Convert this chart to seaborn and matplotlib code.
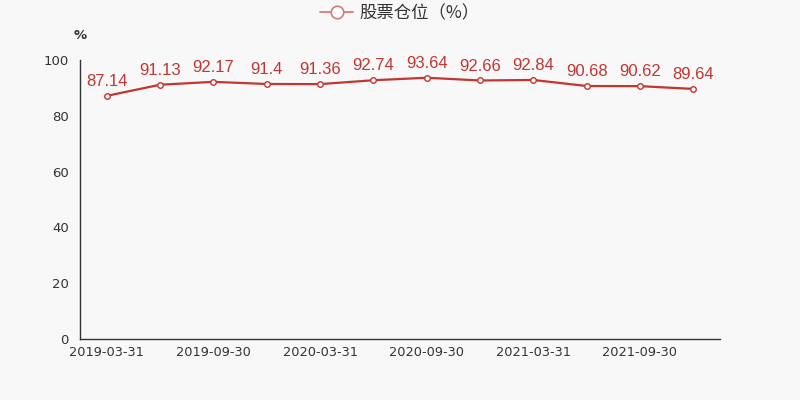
import matplotlib
matplotlib.use("Agg")
import matplotlib.pyplot as plt
from matplotlib.lines import Line2D
import numpy as np
import pandas as pd
import seaborn as sns

dates = ["2019-03-31", "2019-06-30", "2019-09-30", "2019-12-31",
         "2020-03-31", "2020-06-30", "2020-09-30", "2020-12-31",
         "2021-03-31", "2021-06-30", "2021-09-30", "2021-12-31"]
stock_pos = [87.14, 91.13, 92.17, 91.4, 91.36, 92.74, 93.64, 92.66, 92.84, 90.68, 90.62, 89.64]
series_name = "股票仓位（%）"

RED = "#c23531"
BG = "#f8f8f8"
AXIS = "#333333"

sns.set_theme(style="white")
plt.rcParams["font.family"] = ["Noto Sans CJK SC", "DejaVu Sans"]

df = pd.DataFrame({"x": np.arange(len(dates)), "v": stock_pos})

fig = plt.figure(figsize=(8, 4), dpi=100, facecolor=BG)
ax = fig.add_axes([0.1, 0.1525, 0.8, 0.6975])
ax.set_facecolor(BG)

sns.lineplot(data=df, x="x", y="v", ax=ax, color=RED, linewidth=1.6,
             marker="o", markersize=4, markerfacecolor="white",
             markeredgecolor=RED, markeredgewidth=1, legend=False)

for xi, v in zip(df["x"], df["v"]):
    ax.annotate(f"{v:g}", (xi, v), xytext=(0, 5), textcoords="offset points",
                ha="center", va="bottom", color=RED, fontsize=12,
                family=["Liberation Sans"])

ax.set_xlim(-0.5, len(dates) - 0.5)
ax.set_ylim(0, 100)
ax.set_yticks(np.arange(0, 101, 20))
ax.set_xticks(df["x"][::2])
ax.set_xticklabels(dates[::2])
ax.set_xticks(np.arange(-0.5, len(dates), 2), minor=True)
ax.tick_params(axis="x", which="major", length=0, pad=5, labelsize=9.3, colors=AXIS)
ax.tick_params(axis="x", which="minor", length=5, width=1, color=AXIS, direction="out")
ax.tick_params(axis="y", length=5, width=1, color=AXIS, labelsize=9.5,
               labelcolor=AXIS, direction="out", pad=3)
for lab in ax.get_xticklabels() + ax.get_yticklabels():
    lab.set_family(["DejaVu Sans"])
ax.set_xlabel("")
ax.set_ylabel("")
for s in ["top", "right"]:
    ax.spines[s].set_visible(False)
for s in ["left", "bottom"]:
    ax.spines[s].set_color(AXIS)
    ax.spines[s].set_linewidth(1)
ax.text(0, 1.065, "%", transform=ax.transAxes, ha="center", va="bottom",
        fontsize=9.5, color=AXIS, fontweight="bold", family=["DejaVu Sans"])

handle = Line2D([], [], color="#d77a78", linewidth=1.3, marker="o", markersize=9,
                markerfacecolor="white", markeredgecolor="#d77a78", markeredgewidth=1.2)
leg = ax.legend([handle], [series_name], loc="center", bbox_to_anchor=(0.5, 1.167),
                frameon=False, fontsize=12.5, handlelength=1.9, handletextpad=0.35)
for t in leg.get_texts():
    t.set_color(AXIS)

fig.savefig("out.png", dpi=100, facecolor=BG)
